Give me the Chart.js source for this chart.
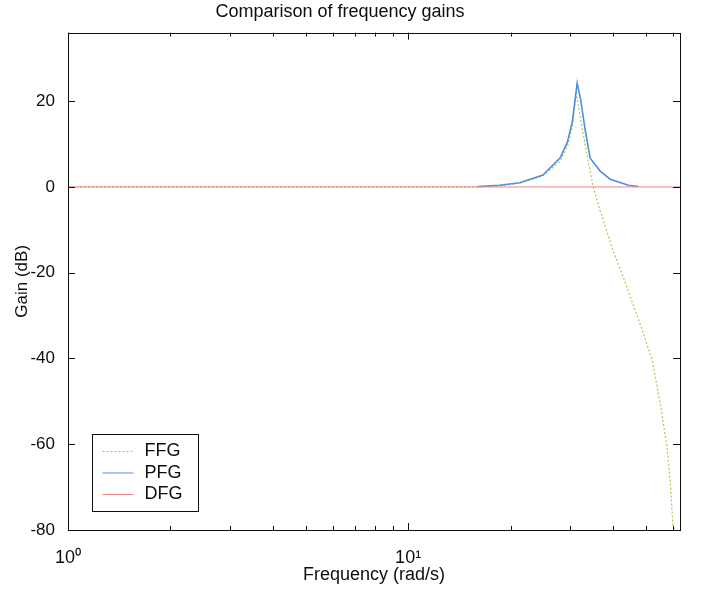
<!DOCTYPE html>
<html>
<head>
<meta charset="utf-8">
<script src="https://cdn.jsdelivr.net/npm/chart.js@4.4.0/dist/chart.umd.min.js"></script>
<style>
  html, body { margin: 0; padding: 0; background: #fff; }
</style>
</head>
<body>
<canvas id="myChart" width="714" height="592"></canvas>
<script>
// values
const ffgFreq = [1, 16.0, 18.6, 21.3, 24.9, 28.0, 29.4, 30.4, 31.2, 32.5, 33.6, 35.0, 36.7, 40.1, 42.9, 45.9, 49.1, 52.2, 55.1, 57.8, 59.0, 60.1, 60.9];
const ffgGain = [0, 0, 0.3, 0.9, 2.6, 6.0, 9.5, 14.0, 21.8, 13.7, 7.2, 0, -5.6, -15.0, -21.0, -27.5, -34.0, -40.5, -50.5, -61.0, -69.0, -79.3, -80];

const pfgFreq = [16.0, 18.6, 21.3, 24.9, 28.0, 29.4, 30.4, 31.4, 32.1, 33.2, 34.3, 36.7, 39.3, 44.4, 47.5];
const pfgGain = [0.1, 0.4, 1.0, 2.8, 6.8, 10.5, 15.3, 24.2, 20.7, 13.0, 6.7, 3.7, 1.8, 0.4, 0.1];

const dfgFreq = [1, 63];
const dfgGain = [0, 0];

const seriesNames = ['FFG', 'PFG', 'DFG'];

const xTicks = [1, 2, 3, 4, 5, 6, 7, 8, 9, 10, 20, 30, 40, 50, 60];
const xTickLabels = ['10\u2070', '', '', '', '', '', '', '', '', '10\u00B9', '', '', '', '', ''];
const yTicks = [-80, -60, -40, -20, 0, 20];

const FONT = "'Liberation Sans', Arial, Helvetica, sans-serif";
const ink = '#0e0e0e';

const pts = (xs, ys) => xs.map((x, i) => ({x: x, y: ys[i]}));

// matlab style box with inward ticks on all four sides
const boxTicks = {
  id: 'boxTicks',
  afterDraw(chart) {
    const {ctx, chartArea: a, scales: {x, y}} = chart;
    ctx.save();
    ctx.strokeStyle = ink;
    ctx.lineWidth = 1;
    ctx.beginPath();
    x.ticks.forEach(t => {
      const px = Math.round(x.getPixelForValue(t.value)) + 0.5;
      const len = xTickLabels[xTicks.indexOf(t.value)] ? 7 : 4;
      ctx.moveTo(px, a.bottom); ctx.lineTo(px, a.bottom - len);
      ctx.moveTo(px, a.top); ctx.lineTo(px, a.top + len);
    });
    y.ticks.forEach(t => {
      const py = Math.round(y.getPixelForValue(t.value)) + 0.5;
      ctx.moveTo(a.left, py); ctx.lineTo(a.left + 7, py);
      ctx.moveTo(a.right, py); ctx.lineTo(a.right - 7, py);
    });
    ctx.stroke();
    ctx.strokeRect(Math.round(a.left) + 0.5, Math.round(a.top) + 0.5,
                   Math.round(a.right - a.left), Math.round(a.bottom - a.top));
    ctx.restore();
  }
};

const boxLegend = {
  id: 'boxLegend',
  afterDatasetsDraw(chart) {
    const {ctx, chartArea: a} = chart;
    const bx = Math.round(a.left) + 24.5, by = Math.round(a.bottom) - 95.5;
    const bw = 106, bh = 77;
    ctx.save();
    ctx.fillStyle = '#fff';
    ctx.fillRect(bx, by, bw, bh);
    ctx.strokeStyle = ink;
    ctx.lineWidth = 1;
    ctx.strokeRect(bx, by, bw, bh);
    ctx.font = '18px ' + FONT;
    ctx.textBaseline = 'middle';
    ctx.textAlign = 'left';
    chart.data.datasets.forEach((ds, i) => {
      const ly = by + 17 + i * 21.5;
      ctx.beginPath();
      ctx.strokeStyle = ds.borderColor;
      ctx.lineWidth = 1;
      ctx.setLineDash(ds.borderDash || []);
      ctx.moveTo(bx + 10, ly);
      ctx.lineTo(bx + 41, ly);
      ctx.stroke();
      ctx.setLineDash([]);
      ctx.fillStyle = ink;
      ctx.fillText(ds.label, bx + 52, ly);
    });
    ctx.restore();
  }
};

const ctx = document.getElementById('myChart').getContext('2d');

const data = {
  datasets: [
    {
      label: seriesNames[0],
      data: pts(ffgFreq, ffgGain),
      borderColor: '#b9bf55',
      borderWidth: 1.2,
      borderDash: [2, 2],
      pointRadius: 0,
      tension: 0,
      order: 3
    },
    {
      label: seriesNames[1],
      data: pts(pfgFreq, pfgGain),
      borderColor: '#4f8fe0',
      borderWidth: 1.6,
      pointRadius: 0,
      tension: 0,
      order: 2
    },
    {
      label: seriesNames[2],
      data: pts(dfgFreq, dfgGain),
      borderColor: '#f08484',
      borderWidth: 1,
      pointRadius: 0,
      tension: 0,
      order: 1
    }
  ]
};

const config = {
  type: 'line',
  data: data,
  options: {
    responsive: false,
    animation: false,
    layout: { padding: { left: 0, right: 34, top: 0, bottom: 0 } },
    plugins: {
      legend: { display: false },
      tooltip: { enabled: false },
      title: {
        display: true,
        text: 'Comparison of frequency gains',
        color: ink,
        font: { family: FONT, size: 18, weight: 'normal' },
        padding: { top: 1, bottom: 10 }
      }
    },
    scales: {
      x: {
        type: 'logarithmic',
        min: 1,
        max: 63,
        afterBuildTicks: s => { s.ticks = xTicks.map(v => ({value: v})); },
        afterFit: s => { s.height = 62; },
        grid: { display: false },
        border: { display: false },
        ticks: {
          autoSkip: false,
          maxRotation: 0,
          padding: 9,
          color: ink,
          font: { family: FONT, size: 18 },
          callback: v => xTickLabels[xTicks.indexOf(v)] || ''
        },
        title: {
          display: true,
          text: 'Frequency (rad/s)',
          color: ink,
          font: { family: FONT, size: 18 },
          padding: { top: 0, bottom: 6 }
        }
      },
      y: {
        type: 'linear',
        min: -80,
        max: 36,
        afterBuildTicks: s => { s.ticks = yTicks.map(v => ({value: v})); },
        afterFit: s => { s.width = 68; },
        grid: { display: false },
        border: { display: false },
        ticks: {
          padding: 5,
          color: ink,
          font: { family: FONT, size: 17 }
        },
        title: {
          display: true,
          text: 'Gain (dB)',
          color: ink,
          font: { family: FONT, size: 17 },
          padding: { top: 12, bottom: 0 }
        }
      }
    }
  },
  plugins: [boxLegend, boxTicks]
};

const myChart = new Chart(ctx, config);
</script>
</body>
</html>
